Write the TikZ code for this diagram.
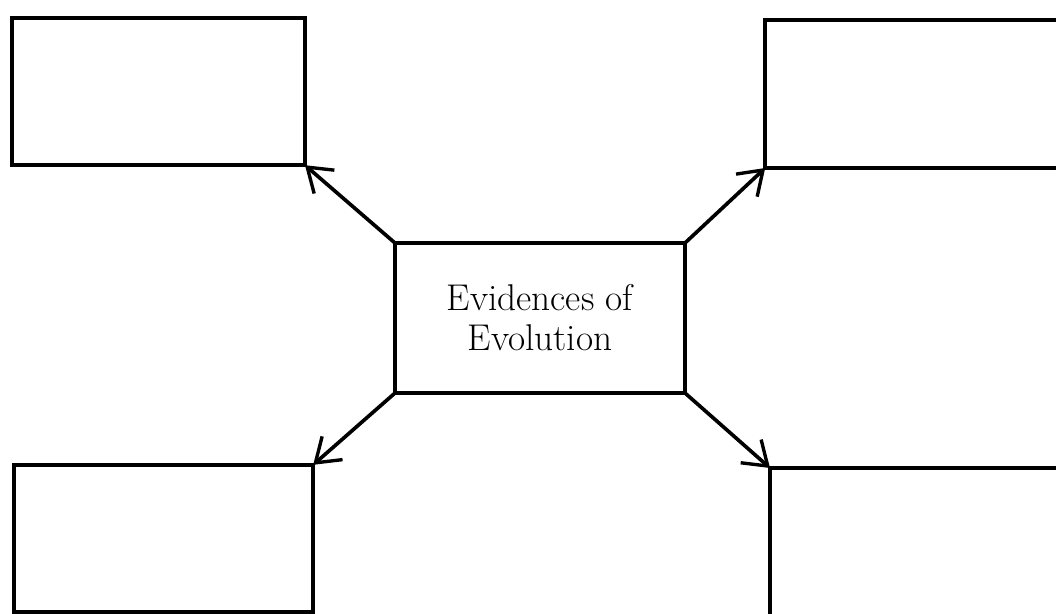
\documentclass[tikz,border=0pt]{standalone}
\usepackage{tikz}
\usetikzlibrary{arrows.meta,positioning}

\begin{document}
\begin{tikzpicture}[
  box/.style={rectangle,draw,line width=2.8pt,outer sep=0pt,inner sep=0pt},
  arr/.style={-{Straight Barb[length=16pt,width=22pt,line width=2.4pt]},line width=2.6pt}]
  \clip(0,0)rectangle(26.4,-15.35);
  \node[box,minimum width=7.25cm,minimum height=3.75cm,align=center,font=\fontsize{26.5}{28.5}\selectfont](mid) at(13.5,-7.95){Evidences of\\Evolution};
  \node[box,minimum width=7.33cm,minimum height=3.68cm](tl) at(3.96,-2.29){};
  \node[box,minimum width=7.5cm,minimum height=3.7cm](tr) at(22.88,-2.35){};
  \node[box,minimum width=7.48cm,minimum height=3.68cm](bl) at(4.09,-13.46){};
  \node[box,minimum width=7.5cm,minimum height=3.7cm](br) at(23.0,-13.55){};
  \draw[arr](mid.north west)--(tl.south east);
  \draw[arr](mid.north east)--(tr.south west);
  \draw[arr](mid.south west)--(bl.north east);
  \draw[arr](mid.south east)--(br.north west);
\end{tikzpicture}
\end{document}
